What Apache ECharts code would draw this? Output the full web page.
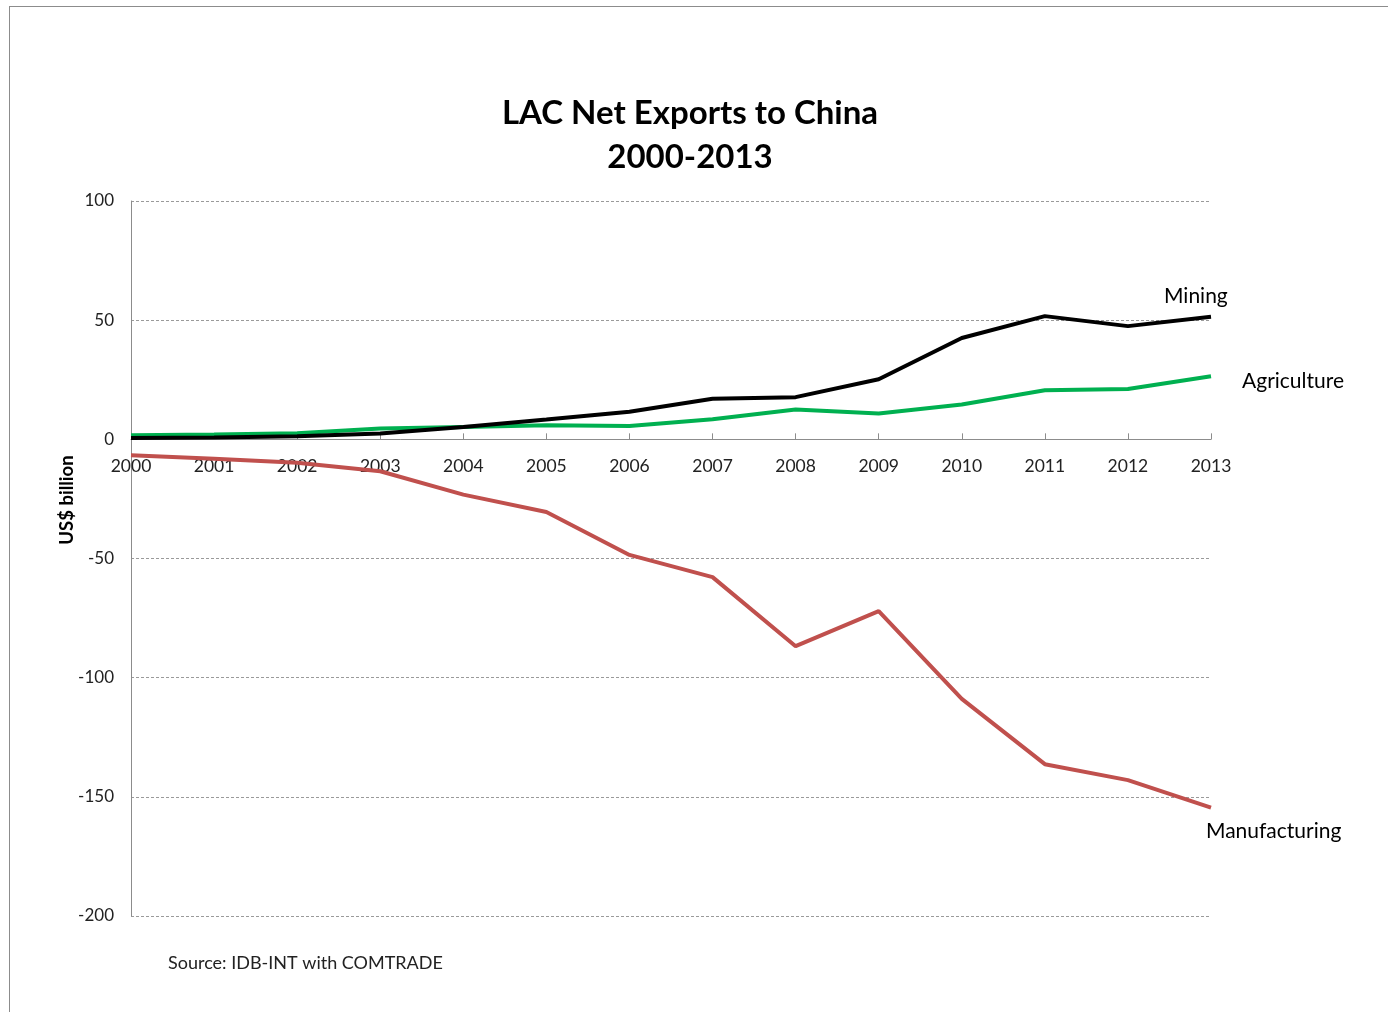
<!DOCTYPE html>
<html>
<head>
<meta charset="utf-8">
<title>LAC Net Exports to China 2000-2013</title>
<script src="https://cdn.jsdelivr.net/npm/echarts@6/dist/echarts.min.js"></script>
<style>
  html, body { margin: 0; padding: 0; background: #fff; }
  #frame { position: absolute; left: 9px; top: 6px; width: 1379px; height: 1006px;
           border-top: 1px solid #8c8c8c; border-left: 1px solid #8c8c8c; box-sizing: border-box; }
  #chart { position: absolute; left: 0; top: 0; width: 1388px; height: 1012px; }
</style>
</head>
<body>
<div id="frame"></div>
<div id="chart"></div>
<script>
// Years on the category axis
const years = ['2000','2001','2002','2003','2004','2005','2006','2007','2008','2009','2010','2011','2012','2013'];

// Net exports, US$ billion
const mining        = [0.6, 0.8, 1.3, 2.4, 5.2, 8.3, 11.6, 17.0, 17.7, 25.2, 42.5, 51.7, 47.5, 51.4];
const agriculture   = [1.7, 2.0, 2.6, 4.5, 5.2, 5.9, 5.6, 8.4, 12.5, 10.8, 14.6, 20.6, 21.1, 26.5];
const manufacturing = [-6.7, -8.1, -9.8, -13.4, -23.2, -30.5, -48.5, -57.8, -86.8, -72.1, -108.9, -136.3, -143.0, -154.5];

const FONT = 'Lato, "Open Sans", sans-serif';

// plot box
const GRID = { left: 131, right: 177, top: 201, bottom: 96 };
const Y_MIN = -200, Y_MAX = 100;
// the category axis sits on the zero line; shift it up from the bottom edge
const plotH = 1012 - GRID.top - GRID.bottom;
const zeroShift = plotH * (0 - Y_MIN) / (Y_MAX - Y_MIN);

const chart = echarts.init(document.getElementById('chart'), null, { renderer: 'canvas' });

chart.setOption({
  backgroundColor: 'transparent',
  animation: false,
  grid: GRID,
  xAxis: {
    type: 'category',
    data: years,
    boundaryGap: false,
    position: 'bottom',
    offset: -zeroShift,
    axisLine: { onZero: false, lineStyle: { color: '#8c8c8c', width: 1 } },
    axisTick: { show: true, inside: true, length: 6, alignWithLabel: true, lineStyle: { color: '#8c8c8c' } },
    axisLabel: { margin: 18, fontFamily: FONT, fontSize: 17.5, color: '#222' },
    splitLine: { show: false }
  },
  yAxis: {
    type: 'value',
    min: Y_MIN, max: Y_MAX, interval: 50,
    axisLine: { show: true, lineStyle: { color: '#8c8c8c', width: 1 } },
    axisTick: { show: false },
    axisLabel: { margin: 17, fontFamily: FONT, fontSize: 17, color: '#222' },
    splitLine: { show: true, lineStyle: { color: '#9a9a9a', type: [3, 2], width: 1 } }
  },
  series: [
    { name: 'Manufacturing', type: 'line', data: manufacturing, symbol: 'none',
      lineStyle: { color: '#C0504D', width: 4 }, z: 3 },
    { name: 'Agriculture', type: 'line', data: agriculture, symbol: 'none',
      lineStyle: { color: '#00B050', width: 4 }, z: 4 },
    { name: 'Mining', type: 'line', data: mining, symbol: 'none',
      lineStyle: { color: '#000000', width: 4 }, z: 5 }
  ],
  graphic: [
    { type: 'text', x: 690, y: 113,
      style: { text: 'LAC Net Exports to China', fontFamily: FONT, fontSize: 33, fontWeight: 'bold',
               fill: '#000', align: 'center', verticalAlign: 'middle' } },
    { type: 'text', x: 690, y: 157,
      style: { text: '2000-2013', fontFamily: FONT, fontSize: 33, fontWeight: 'bold',
               fill: '#000', align: 'center', verticalAlign: 'middle' } },
    { type: 'text', left: 1164, top: 286,
      style: { text: 'Mining', fontFamily: FONT, fontSize: 21, fill: '#000' } },
    { type: 'text', left: 1242, top: 371,
      style: { text: 'Agriculture', fontFamily: FONT, fontSize: 21, fill: '#000' } },
    { type: 'text', left: 1206, top: 821,
      style: { text: 'Manufacturing', fontFamily: FONT, fontSize: 21, fill: '#000' } },
    { type: 'text', x: 67, y: 500, rotation: Math.PI / 2,
      style: { text: 'US$ billion', fontFamily: FONT, fontSize: 18.5, fontWeight: 'bold', fill: '#000',
               align: 'center', verticalAlign: 'middle' } },
    { type: 'text', left: 168, top: 954,
      style: { text: 'Source: IDB-INT with COMTRADE', fontFamily: FONT, fontSize: 18, fill: '#222' } }
  ]
});
</script>
</body>
</html>
